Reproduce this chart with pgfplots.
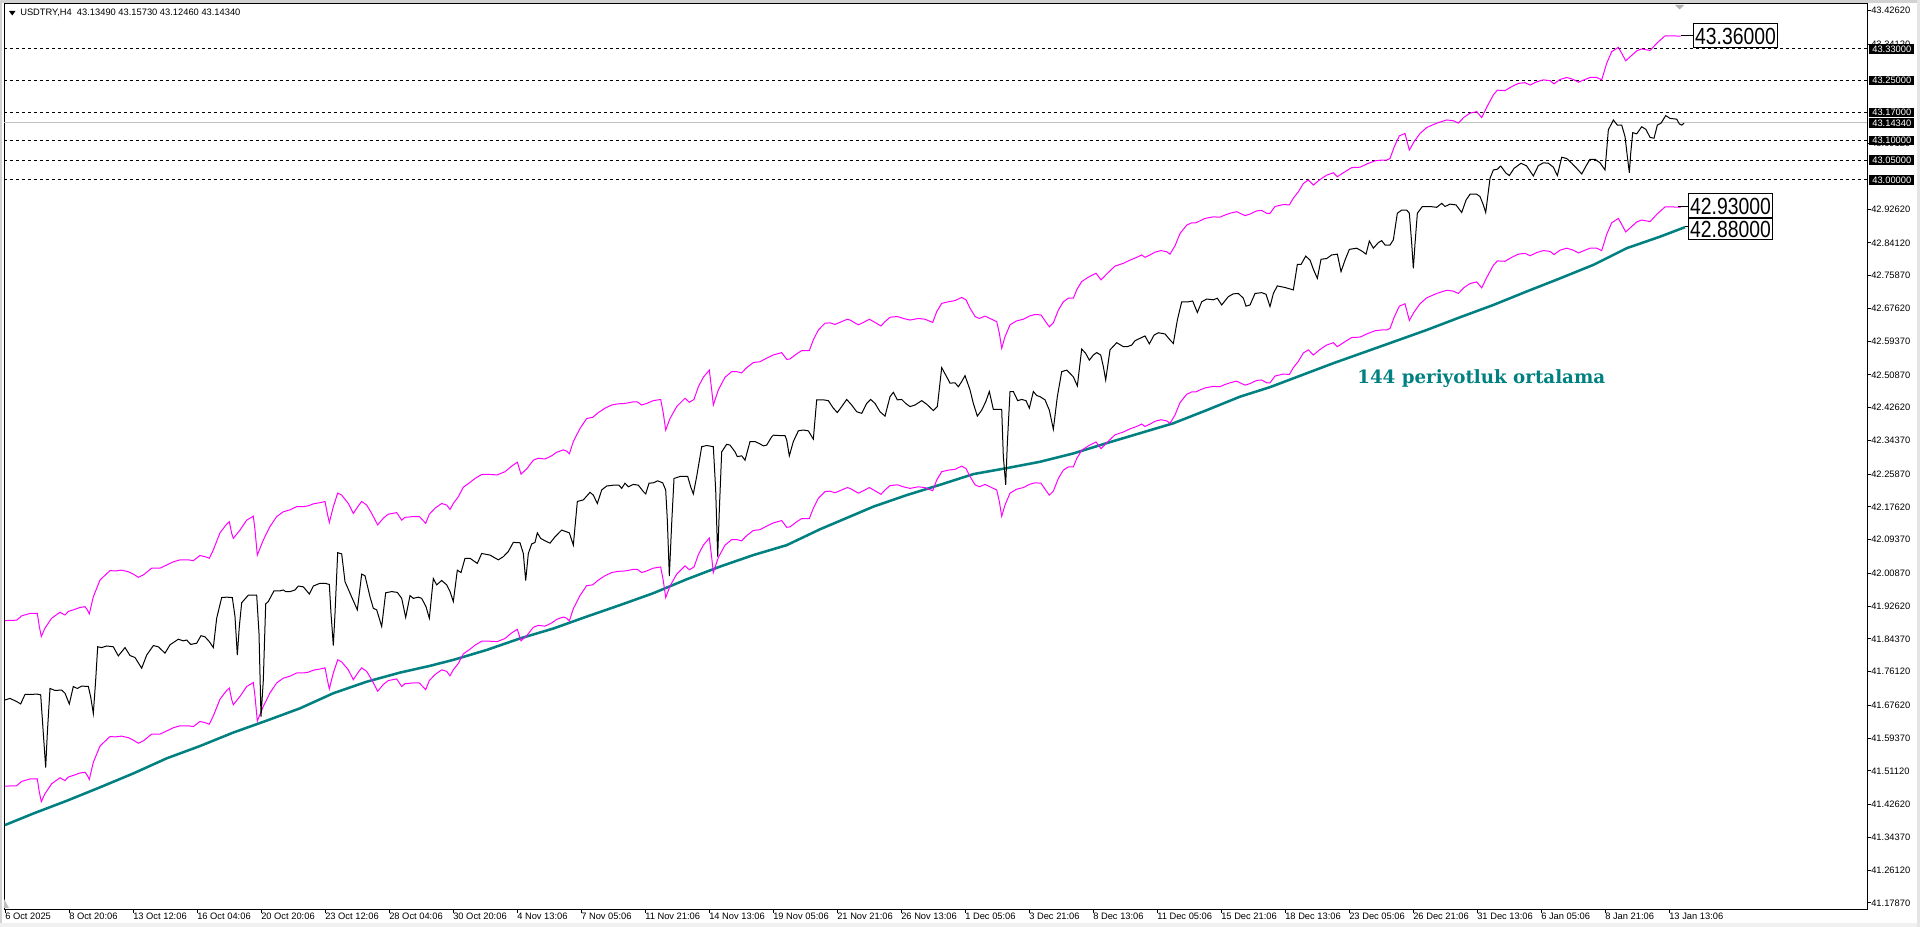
\documentclass[border=0pt]{standalone}
\usepackage{pgfplots}
\pgfplotsset{compat=1.18}
\usepackage{pgfplotstable}
\usepackage{fontspec}
\usepackage{graphicx}
\setmainfont{Liberation Sans}
\newfontfamily\slab{DejaVu Serif}
\definecolor{mtmag}{RGB}{255,0,255}
\definecolor{mtteal}{RGB}{0,128,128}
\definecolor{mtgrey}{RGB}{192,192,192}
\newcommand{\smallf}{\fontsize{7pt}{8pt}\selectfont}
\newcommand{\bigf}{\fontsize{17.5pt}{18pt}\selectfont}

\pgfplotstableread{
i c
0 41.690
1.25 41.694
2.92 41.686
3.92 41.680
5.0 41.704
6.67 41.704
7.92 41.705
8.92 41.703
9.58 41.606
10.17 41.520
10.58 41.606
11.25 41.719
12.5 41.714
14.17 41.715
15.0 41.707
16.08 41.680
17.08 41.724
18.08 41.719
19.17 41.725
20.83 41.724
21.42 41.698
22.08 41.656
22.67 41.740
23.17 41.824
24.17 41.822
25.42 41.826
27.08 41.824
28.33 41.801
30.0 41.822
31.25 41.802
32.5 41.797
34.17 41.770
35.42 41.803
37.08 41.827
38.33 41.824
40.0 41.808
41.25 41.829
43.33 41.843
44.58 41.839
45.42 41.841
46.42 41.830
47.92 41.833
49.0 41.852
50.0 41.849
51.08 41.837
52.08 41.822
52.92 41.896
54.17 41.948
55.42 41.949
56.83 41.948
57.5 41.900
58.08 41.803
58.58 41.875
59.17 41.935
60.83 41.954
62.92 41.954
63.5 41.858
64.0 41.648
64.58 41.740
65.17 41.932
65.83 41.938
67.25 41.965
68.75 41.965
69.58 41.967
70.17 41.963
71.25 41.963
72.5 41.967
73.33 41.977
74.58 41.975
76.08 41.957
77.08 41.977
78.75 41.984
80.0 41.984
81.08 41.981
81.5 41.908
82.08 41.827
82.5 41.908
83.17 42.061
84.17 42.058
85.0 41.988
86.25 41.959
88.08 41.917
89.17 42.007
90.0 42.003
91.25 41.950
92.08 41.921
92.92 41.917
94.17 41.875
95.17 41.960
96.67 41.963
98.08 41.961
99.17 41.946
100.17 41.898
101.25 41.953
102.08 41.946
103.33 41.949
104.17 41.946
105.25 41.925
106.08 41.896
107.08 41.996
107.92 41.980
109.17 41.991
110.42 41.980
111.25 41.963
112.08 41.938
113.08 42.017
114.0 42.011
115.0 42.047
116.25 42.047
117.08 42.041
118.08 42.034
119.17 42.059
121.25 42.055
123.33 42.043
124.58 42.051
125.83 42.064
127.08 42.087
128.75 42.086
129.58 42.059
130.17 41.991
130.83 42.059
131.67 42.083
132.5 42.087
133.08 42.111
133.92 42.097
135.0 42.091
136.25 42.085
137.5 42.101
139.17 42.118
141.08 42.111
142.08 42.080
143.08 42.190
144.58 42.194
146.25 42.213
147.08 42.206
148.08 42.185
149.17 42.219
150.42 42.229
152.08 42.231
153.5 42.231
154.17 42.223
155.0 42.236
155.83 42.227
157.08 42.233
158.33 42.231
159.58 42.215
160.17 42.209
161.0 42.236
162.08 42.237
163.17 42.242
164.42 42.237
165.17 42.219
165.58 42.143
166.08 42.002
166.67 42.135
167.25 42.248
168.75 42.253
170.67 42.253
171.42 42.227
172.08 42.209
172.92 42.253
174.17 42.328
175.42 42.331
177.08 42.328
177.67 42.219
178.17 42.051
178.58 42.169
179.17 42.315
180.42 42.334
181.25 42.332
182.5 42.315
183.08 42.303
184.17 42.305
185.0 42.294
186.25 42.341
187.5 42.341
188.75 42.335
189.58 42.330
190.42 42.332
191.67 42.353
192.08 42.357
193.75 42.356
195.0 42.356
195.42 42.345
196.08 42.305
197.08 42.341
198.33 42.368
199.58 42.370
200.83 42.368
202.08 42.347
202.92 42.446
204.58 42.446
205.83 42.444
207.08 42.425
208.08 42.414
209.17 42.429
210.42 42.447
211.67 42.433
212.92 42.416
214.17 42.412
215.42 42.437
216.42 42.447
217.5 42.437
218.75 42.416
220.0 42.405
221.25 42.454
222.08 42.465
223.08 42.446
224.17 42.447
225.17 42.437
226.25 42.429
227.5 42.433
229.17 42.444
230.42 42.435
231.25 42.427
232.08 42.419
233.08 42.429
234.17 42.527
235.42 42.504
236.25 42.488
237.5 42.489
238.33 42.479
239.17 42.492
240.0 42.507
241.25 42.471
242.08 42.437
243.08 42.405
244.17 42.420
245.17 42.441
246.08 42.467
247.08 42.422
249.17 42.422
249.58 42.303
250.17 42.232
250.58 42.336
251.25 42.467
252.08 42.467
253.17 42.444
254.17 42.447
255.25 42.444
256.08 42.425
257.08 42.467
257.92 42.457
258.75 42.454
260.0 42.446
261.08 42.420
262.08 42.372
263.08 42.454
264.17 42.517
265.42 42.521
267.08 42.504
268.08 42.481
269.17 42.574
270.17 42.563
271.08 42.546
272.08 42.559
272.92 42.565
273.92 42.559
274.58 42.530
275.17 42.496
276.25 42.572
277.92 42.590
279.58 42.580
280.58 42.580
281.67 42.584
282.5 42.595
283.75 42.601
285.0 42.607
286.08 42.587
287.25 42.609
288.33 42.615
290.0 42.612
291.25 42.597
292.08 42.588
293.08 42.647
294.17 42.693
295.83 42.693
296.92 42.695
298.08 42.666
299.17 42.693
300.42 42.700
302.08 42.698
303.08 42.702
304.17 42.685
305.83 42.706
307.08 42.713
308.33 42.714
309.58 42.702
310.25 42.682
311.25 42.685
312.5 42.714
314.17 42.716
315.25 42.712
316.25 42.681
317.08 42.714
318.08 42.733
320.0 42.729
322.08 42.723
323.08 42.787
324.0 42.787
325.17 42.808
326.25 42.798
327.08 42.775
328.08 42.752
329.0 42.800
330.42 42.802
331.67 42.811
333.08 42.813
334.0 42.769
335.0 42.798
336.08 42.825
337.92 42.828
339.17 42.821
340.25 42.813
341.08 42.846
342.08 42.828
343.33 42.842
344.17 42.847
345.0 42.836
346.25 42.836
347.08 42.849
348.08 42.916
349.17 42.924
350.42 42.924
351.08 42.916
351.67 42.840
352.08 42.777
352.5 42.840
353.08 42.916
354.33 42.933
356.25 42.933
357.92 42.931
359.17 42.941
360.0 42.933
361.25 42.939
362.75 42.937
364.17 42.918
365.25 42.949
366.25 42.964
367.92 42.964
368.75 42.958
369.58 42.937
370.17 42.918
371.25 43.004
372.08 43.025
373.08 43.027
373.92 43.035
375.25 43.017
376.08 43.011
377.25 43.029
379.0 43.042
380.42 43.035
382.08 43.010
383.33 43.036
384.58 43.043
385.83 43.042
387.08 43.032
388.08 43.011
389.17 43.057
390.42 43.054
391.67 43.042
392.92 43.029
394.17 43.015
395.25 43.035
396.25 43.052
397.5 43.052
398.75 43.043
400.0 43.025
400.83 43.126
402.08 43.151
403.08 43.138
404.17 43.138
405.0 43.109
405.58 43.059
406.08 43.018
406.42 43.067
406.92 43.119
407.92 43.116
409.17 43.134
410.25 43.127
411.25 43.107
412.25 43.105
413.08 43.138
414.0 43.143
415.17 43.162
416.25 43.155
417.92 43.153
418.58 43.141
419.17 43.138
419.75 43.143
}\closedata

\pgfplotstableread{
i u l
0 41.890 41.473
2.92 41.891 41.474
4.17 41.902 41.485
6.25 41.908 41.491
8.08 41.908 41.491
8.58 41.875 41.458
9.08 41.850 41.434
10.0 41.871 41.454
11.67 41.896 41.479
13.75 41.911 41.494
15.0 41.904 41.487
15.83 41.913 41.496
17.08 41.917 41.500
18.75 41.923 41.506
20.0 41.925 41.508
20.58 41.917 41.500
21.08 41.907 41.490
22.08 41.950 41.533
23.75 41.992 41.574
26.25 42.016 41.598
27.5 42.015 41.597
29.17 42.017 41.599
30.83 42.013 41.595
32.08 42.007 41.589
33.33 41.999 41.581
34.58 42.005 41.587
36.67 42.022 41.604
38.75 42.022 41.604
40.42 42.030 41.612
42.08 42.038 41.620
43.75 42.043 41.625
45.83 42.043 41.625
47.08 42.041 41.623
48.75 42.054 41.636
50.0 42.051 41.633
51.08 42.047 41.629
52.08 42.068 41.650
53.75 42.111 41.692
55.42 42.133 41.714
56.08 42.139 41.720
56.67 42.110 41.691
57.08 42.097 41.678
58.75 42.118 41.699
60.42 42.143 41.724
62.08 42.153 41.734
62.5 42.118 41.699
63.08 42.055 41.637
64.58 42.093 41.674
66.25 42.127 41.708
67.92 42.152 41.733
69.58 42.164 41.745
71.25 42.169 41.750
72.92 42.177 41.758
74.58 42.177 41.758
75.83 42.179 41.760
77.08 42.184 41.765
78.75 42.187 41.768
80.0 42.190 41.771
80.58 42.160 41.741
81.08 42.137 41.718
82.08 42.177 41.758
83.17 42.211 41.791
84.17 42.206 41.786
85.83 42.185 41.766
87.08 42.160 41.741
88.33 42.179 41.760
89.17 42.190 41.771
90.42 42.181 41.762
91.67 42.160 41.741
93.17 42.131 41.712
94.58 42.148 41.729
95.83 42.158 41.739
97.92 42.162 41.743
99.17 42.143 41.724
100.0 42.150 41.731
102.08 42.152 41.733
103.58 42.152 41.733
104.42 42.143 41.724
105.17 42.135 41.716
106.08 42.158 41.739
107.5 42.173 41.754
109.17 42.185 41.766
110.42 42.181 41.762
111.25 42.170 41.751
112.08 42.185 41.766
113.33 42.202 41.782
114.58 42.226 41.806
116.25 42.238 41.818
117.5 42.248 41.828
119.17 42.258 41.838
121.25 42.258 41.838
123.08 42.257 41.837
125.0 42.265 41.845
126.67 42.279 41.859
128.08 42.289 41.868
129.0 42.259 41.839
130.42 42.272 41.852
132.08 42.294 41.873
133.33 42.299 41.878
135.0 42.297 41.876
136.67 42.305 41.884
137.92 42.314 41.893
139.58 42.320 41.899
140.42 42.317 41.896
141.08 42.310 41.889
142.08 42.341 41.920
143.75 42.374 41.953
145.42 42.399 41.978
146.92 42.402 41.980
148.33 42.414 41.992
150.0 42.425 42.003
151.67 42.433 42.011
153.33 42.436 42.014
155.0 42.437 42.015
157.08 42.441 42.019
158.08 42.441 42.019
159.17 42.433 42.011
160.42 42.437 42.015
162.08 42.444 42.022
163.92 42.447 42.025
164.58 42.412 41.990
165.17 42.370 41.948
166.25 42.399 41.977
167.92 42.429 42.007
170.0 42.450 42.028
171.08 42.440 42.018
172.25 42.447 42.025
173.33 42.479 42.056
174.58 42.503 42.080
176.08 42.521 42.098
176.67 42.471 42.049
177.08 42.433 42.011
178.33 42.471 42.049
180.0 42.503 42.080
181.67 42.517 42.094
182.92 42.517 42.094
184.17 42.514 42.091
185.42 42.527 42.104
187.08 42.540 42.117
188.75 42.542 42.119
190.42 42.551 42.128
192.08 42.559 42.136
194.17 42.565 42.142
195.42 42.548 42.125
196.25 42.549 42.126
197.92 42.562 42.139
199.17 42.570 42.147
201.08 42.570 42.147
202.08 42.597 42.173
203.33 42.622 42.198
205.0 42.639 42.215
206.25 42.640 42.216
207.5 42.636 42.212
209.17 42.643 42.219
210.58 42.649 42.225
211.25 42.647 42.223
213.33 42.635 42.211
214.58 42.641 42.217
216.08 42.649 42.225
217.5 42.641 42.217
219.0 42.632 42.208
220.0 42.643 42.219
221.25 42.654 42.230
223.08 42.656 42.232
224.58 42.651 42.227
226.25 42.647 42.223
228.33 42.651 42.227
230.0 42.649 42.225
231.92 42.641 42.217
232.92 42.668 42.244
234.17 42.689 42.265
235.83 42.693 42.269
237.5 42.696 42.271
239.17 42.704 42.279
240.25 42.698 42.273
241.25 42.677 42.253
242.5 42.656 42.232
243.58 42.651 42.227
245.0 42.657 42.233
246.25 42.651 42.227
247.92 42.643 42.219
248.58 42.614 42.190
249.17 42.576 42.153
250.0 42.605 42.181
251.25 42.635 42.211
252.92 42.645 42.221
254.58 42.649 42.225
256.08 42.657 42.233
257.5 42.661 42.237
259.0 42.660 42.236
260.0 42.645 42.221
261.08 42.630 42.206
262.08 42.640 42.216
263.33 42.672 42.248
264.58 42.693 42.269
265.83 42.702 42.277
267.08 42.702 42.277
267.92 42.723 42.298
269.17 42.744 42.319
270.83 42.755 42.330
272.75 42.765 42.340
274.0 42.748 42.323
275.42 42.763 42.338
277.5 42.783 42.358
279.58 42.790 42.365
281.25 42.798 42.373
282.92 42.805 42.379
284.17 42.811 42.385
285.0 42.805 42.379
286.25 42.811 42.385
287.5 42.818 42.392
289.0 42.822 42.396
290.42 42.819 42.393
291.25 42.813 42.387
292.5 42.834 42.408
293.75 42.865 42.439
295.42 42.886 42.460
296.67 42.892 42.466
297.75 42.892 42.466
298.75 42.897 42.471
300.0 42.903 42.476
302.08 42.907 42.480
303.75 42.906 42.479
304.58 42.910 42.483
306.25 42.916 42.489
307.92 42.920 42.493
309.17 42.914 42.487
310.0 42.910 42.483
311.25 42.914 42.487
312.92 42.922 42.495
314.17 42.923 42.496
315.42 42.916 42.489
316.25 42.916 42.489
317.5 42.933 42.506
319.58 42.938 42.511
321.08 42.937 42.510
322.08 42.954 42.527
323.33 42.970 42.543
324.58 42.991 42.564
325.83 43.000 42.572
327.08 42.987 42.559
328.75 43.001 42.573
330.42 43.012 42.584
332.08 43.018 42.590
333.08 43.008 42.580
334.58 43.018 42.590
336.67 43.031 42.603
338.75 43.032 42.604
340.42 43.040 42.612
342.5 43.048 42.620
344.17 43.050 42.622
345.42 43.050 42.622
346.25 43.054 42.626
347.33 43.084 42.655
348.58 43.111 42.682
350.0 43.117 42.688
351.08 43.075 42.646
352.25 43.096 42.667
353.75 43.117 42.688
355.42 43.132 42.703
357.92 43.143 42.714
360.42 43.151 42.722
362.08 43.149 42.720
363.33 43.143 42.714
364.75 43.158 42.729
366.25 43.168 42.739
367.92 43.172 42.743
369.17 43.157 42.728
370.42 43.183 42.754
372.08 43.214 42.785
373.08 43.226 42.796
375.0 43.225 42.795
376.67 43.235 42.805
378.33 43.243 42.813
380.0 43.245 42.815
381.25 43.239 42.809
382.92 43.247 42.817
384.58 43.252 42.822
386.25 43.250 42.820
387.25 43.242 42.812
388.75 43.253 42.823
390.42 43.258 42.828
392.08 43.253 42.823
393.33 43.246 42.816
395.0 43.253 42.823
396.25 43.258 42.828
397.92 43.258 42.828
399.17 43.252 42.822
400.42 43.294 42.863
401.67 43.323 42.892
403.33 43.334 42.903
404.17 43.319 42.888
405.17 43.300 42.869
406.25 43.310 42.879
407.92 43.325 42.894
409.17 43.330 42.899
411.25 43.326 42.895
412.92 43.344 42.913
415.0 43.363 42.932
416.67 43.363 42.932
418.92 43.362 42.931
}\envdata

\pgfplotstableread{
i m
0 41.375
7.08 41.404
15.42 41.436
23.75 41.470
32.08 41.505
40.42 41.543
48.75 41.574
57.08 41.608
65.42 41.638
73.75 41.669
82.08 41.707
90.42 41.736
98.75 41.759
106.25 41.776
112.08 41.791
120.42 41.816
128.75 41.845
137.08 41.870
145.42 41.900
153.75 41.929
162.08 41.959
170.42 41.994
178.75 42.026
187.08 42.055
195.42 42.080
203.75 42.120
211.25 42.152
217.08 42.177
225.42 42.206
233.75 42.232
242.08 42.259
250.42 42.274
258.75 42.290
267.08 42.311
275.42 42.337
283.75 42.362
292.08 42.387
300.42 42.420
308.75 42.454
316.25 42.478
332.0 42.538
348.75 42.598
355.42 42.622
363.75 42.654
372.08 42.685
380.42 42.719
388.75 42.752
397.08 42.786
405.42 42.828
413.75 42.857
420.0 42.881
}\tealdata

\begin{document}
\begin{tikzpicture}
\begin{scope}[x=0.75pt,y=-0.75pt]
\path[use as bounding box] (0,0) rectangle (1920,927);
\fill[white] (0,0) rectangle (1920,927);
\fill[gray!35] (0,0) rectangle (1920,3);
\fill[gray!35] (0,0) rectangle (2,927);
\fill[gray!12] (0,923) rectangle (1920,927);
\fill[gray!20] (1917,0) rectangle (1920,927);
\end{scope}

\begin{axis}[
  at={(3pt,-3pt)}, anchor=north west,
  scale only axis, width=1397.25pt, height=678.75pt,
  xmin=-0.25, xmax=465.5, ymin=41.1635, ymax=43.4431,
  axis line style={line width=0.75pt},
  tick style={black, line width=0.75pt},
  tick align=outside, major tick length=3pt,
  xtick pos=left, ytick pos=right,
  yticklabel pos=right,
  xtick={0,16,...,416},
  xticklabels={6 Oct 2025,8 Oct 20:06,13 Oct 12:06,16 Oct 04:06,20 Oct 20:06,23 Oct 12:06,28 Oct 04:06,30 Oct 20:06,4 Nov 13:06,7 Nov 05:06,11 Nov 21:06,14 Nov 13:06,19 Nov 05:06,21 Nov 21:06,26 Nov 13:06,1 Dec 05:06,3 Dec 21:06,8 Dec 13:06,11 Dec 05:06,15 Dec 21:06,18 Dec 13:06,23 Dec 05:06,26 Dec 21:06,31 Dec 13:06,6 Jan 05:06,8 Jan 21:06,13 Jan 13:06},
  ytick={43.4262,43.3412,43.0912,42.9262,42.8412,42.7587,42.6762,42.5937,42.5087,42.4262,42.3437,42.2587,42.1762,42.0937,42.0087,41.9262,41.8437,41.7612,41.6762,41.5937,41.5112,41.4262,41.3437,41.2612,41.1787},
  yticklabels={43.42620,43.34120,43.09120,42.92620,42.84120,42.75870,42.67620,42.59370,42.50870,42.42620,42.34370,42.25870,42.17620,42.09370,42.00870,41.92620,41.84370,41.76120,41.67620,41.59370,41.51120,41.42620,41.34370,41.26120,41.17870},
  xticklabel style={font=\smallf, anchor=north west, inner sep=0pt, xshift=0pt, yshift=0pt},
  yticklabel style={font=\smallf, anchor=west, inner sep=0pt, xshift=0pt},
]
\addplot[black, line width=0.75pt, dash pattern=on 2.25pt off 2.25pt] coordinates {(-0.25,43.33) (465.5,43.33)};
\addplot[black, line width=0.75pt, dash pattern=on 2.25pt off 2.25pt] coordinates {(-0.25,43.25) (465.5,43.25)};
\addplot[black, line width=0.75pt, dash pattern=on 2.25pt off 2.25pt] coordinates {(-0.25,43.17) (465.5,43.17)};
\addplot[black, line width=0.75pt, dash pattern=on 2.25pt off 2.25pt] coordinates {(-0.25,43.10) (465.5,43.10)};
\addplot[black, line width=0.75pt, dash pattern=on 2.25pt off 2.25pt] coordinates {(-0.25,43.05) (465.5,43.05)};
\addplot[black, line width=0.75pt, dash pattern=on 2.25pt off 2.25pt] coordinates {(-0.25,43.00) (465.5,43.00)};
\addplot[mtgrey, line width=0.75pt] coordinates {(-0.25,43.1434) (465.5,43.1434)};
\addplot[mtteal, line width=1.9pt] table[x=i,y=m] {\tealdata};
\addplot[mtmag, line width=0.75pt] table[x=i,y=u] {\envdata};
\addplot[mtmag, line width=0.75pt] table[x=i,y=l] {\envdata};
\addplot[black, line width=0.75pt] table[x=i,y=c] {\closedata};
\addplot[black, line width=0.75pt] coordinates {(418.92,43.3625) (422,43.3625)};
\addplot[black, line width=0.75pt] coordinates {(418.3,42.9325) (420.75,42.9325)};
\addplot[black, line width=0.75pt] coordinates {(420,42.8821) (420.75,42.8821)};
\node[draw=black, line width=0.75pt, fill=white, anchor=west, inner sep=0pt, minimum width=63pt, minimum height=18pt] at (axis cs:422,43.3625) {\bigf\scalebox{0.83}[1]{43.36000}};
\node[draw=black, line width=0.75pt, fill=white, anchor=west, inner sep=0pt, minimum width=63pt, minimum height=18pt] (bA) at (axis cs:420.75,42.9343) {\bigf\scalebox{0.83}[1]{42.93000}};
\node[draw=black, line width=0.75pt, fill=white, anchor=north west, inner sep=0pt, minimum width=63pt, minimum height=15.75pt] at (bA.south west) {\bigf\scalebox{0.83}[1]{42.88000}};
\node[anchor=west, inner sep=0pt, text=mtteal, font=\slab\bfseries\fontsize{13.7pt}{14pt}\selectfont] at (axis cs:338,42.4985) {144 periyotluk ortalama};
\coordinate (r1) at (axis cs:465.5,43.33);
\coordinate (r2) at (axis cs:465.5,43.25);
\coordinate (r3) at (axis cs:465.5,43.17);
\coordinate (r4) at (axis cs:465.5,43.1434);
\coordinate (r5) at (axis cs:465.5,43.10);
\coordinate (r6) at (axis cs:465.5,43.05);
\coordinate (r7) at (axis cs:465.5,43.00);
\end{axis}

\foreach \n/\t in {r1/43.33000,r2/43.25000,r3/43.17000,r4/43.14340,r5/43.10000,r6/43.05000,r7/43.00000}{
  \node[fill=black, text=white, anchor=west, inner sep=0pt, minimum width=33.75pt, minimum height=7pt, xshift=1.5pt, font=\smallf] at (\n) {\t};
}

\begin{scope}[x=0.75pt,y=-0.75pt]
\fill[black] (9,11) -- (15.5,11) -- (12.25,15.5) -- cycle;
\node[anchor=west, inner sep=0pt, font=\smallf] at (20,13.3) {USDTRY,H4\ \ 43.13490 43.15730 43.12460 43.14340};
\fill[gray!60] (1675,5) -- (1684,5) -- (1679.5,9.5) -- cycle;
\fill[gray!50] (4,899) -- (4,908) -- (9,908) -- cycle;
\end{scope}
\end{tikzpicture}
\end{document}
